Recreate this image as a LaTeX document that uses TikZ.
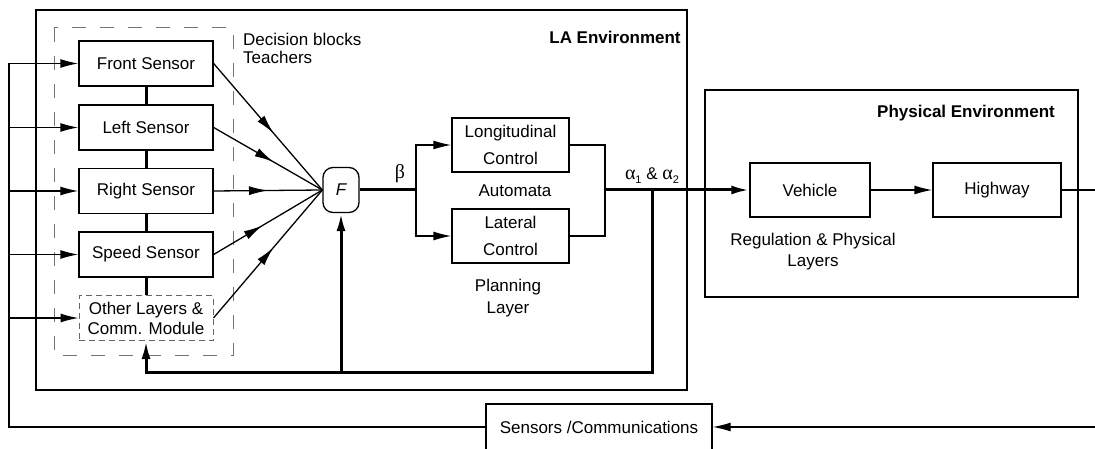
\documentclass[tikz,border=0pt]{standalone}
\usepackage{fontspec}
\setmainfont{Liberation Sans}
\newfontfamily\grk{Liberation Serif}
\usetikzlibrary{arrows.meta,decorations.markings,calc}
\begin{document}
\begin{tikzpicture}[x=1pt,y=-1pt,
  font=\fontsize{17}{20}\selectfont,
  thinln/.style={line width=1.3pt},
  thickln/.style={line width=3pt},
  tip/.style={-{Latex[length=18pt,width=9pt]}},
  blk/.style={draw,line width=1.3pt,inner sep=0pt,align=center},
  sensorbox/.style={blk,minimum width=134pt,minimum height=45pt},
  ctrlbox/.style={blk,minimum width=117pt,minimum height=54pt,font=\fontsize{17}{27}\selectfont},
  physbox/.style={blk,minimum width=122pt,minimum height=54pt},
  midarrow/.style={postaction={decorate},decoration={markings,
      mark=at position #1 with {\arrow{Latex[length=19pt,width=9pt]}}}},
  lbl/.style={inner sep=0pt,align=center},
  boldlbl/.style={inner sep=0pt,font=\fontsize{17}{20}\selectfont\bfseries},
  dashbox/.style={draw=black!55,line width=1pt,dash pattern=on 14pt off 14pt}
]
\useasboundingbox (0,0) rectangle (1095,449);

% containers
\node[blk,minimum width=651pt,minimum height=380pt] (la) at (361.5,200) {};
\node[blk,minimum width=373pt,minimum height=207pt] (phys) at (891.5,193.5) {};
\draw[dashbox] (54,28) rectangle (233,355);

% sensor blocks
\node[sensorbox] (front) at (146,63.5) {Front Sensor};
\node[sensorbox] (left) at (146,127.5) {Left Sensor};
\node[sensorbox] (right) at (146,191) {Right Sensor};
\node[sensorbox] (speed) at (146,254.5) {Speed Sensor};
\node[sensorbox,draw=black!60,line width=1pt,dash pattern=on 6pt off 4pt] (other) at (146,318)
  {Other Layers \&\\Comm. Module};

\node[blk,rounded corners=10pt,minimum width=36pt,minimum height=45pt] (F) at (341,190) {\itshape F};

\node[ctrlbox] (long) at (510.5,145) {Longitudinal\\Control};
\node[ctrlbox] (lat) at (510.5,236) {Lateral\\Control};

\node[physbox,minimum width=120pt] (veh) at (810,190) {Vehicle};
\node[physbox,minimum width=128pt] (hwy) at (997,190) {Highway};

\node[blk,minimum width=226pt,minimum height=46pt] (sens) at (599,427) {Sensors /Communications};

% labels
\node[lbl,anchor=west,font=\fontsize{17}{18}\selectfont,align=left] (dec) at (243,48) {Decision blocks\\Teachers};
\node[boldlbl] (lalbl) at (615,37) {LA Environment};
\node[boldlbl] (phlbl) at (966,113) {Physical Environment};
\node[lbl,font=\fontsize{20}{20}\selectfont\grk] (beta) at (400,174) {β};
\node[lbl] (alph) at (652,176) {{\fontsize{20}{20}\selectfont\grk α}\raisebox{-4pt}{\fontsize{11}{11}\selectfont 1} \& {\fontsize{20}{20}\selectfont\grk α}\raisebox{-4pt}{\fontsize{11}{11}\selectfont 2}};
\node[lbl] (auto) at (515,191) {Automata};
\node[lbl,font=\fontsize{17}{22}\selectfont] (plan) at (508,298) {Planning\\Layer};
\node[lbl,font=\fontsize{17}{21}\selectfont] (reg) at (813,252) {Regulation \& Physical\\Layers};

% thick chain between sensors
\draw[thickln] (front.south) -- (left.north);
\draw[thickln] (left.south) -- (right.north);
\draw[thickln] (right.south) -- (speed.north);
\draw[thickln] (speed.south) -- (other.north);

% sensor outputs to F
\draw[thinln,midarrow=0.55] (front.east) -- (F.west);
\draw[thinln,midarrow=0.55] (left.east) -- (F.west);
\draw[thinln,midarrow=0.5] (right.east) -- (F.west);
\draw[thinln,midarrow=0.45] (speed.east) -- (F.west);
\draw[thinln,midarrow=0.55] (other.east) -- (F.west);

% outer loop inputs
\coordinate (lc) at (9,427);
\draw[thinln,tip] (sens.west) -- (lc) |- (front.west);
\draw[thinln,tip] (lc |- left.west) -- (left.west);
\draw[thinln,tip] (lc |- right.west) -- (right.west);
\draw[thinln,tip] (lc |- speed.west) -- (speed.west);
\draw[thinln,tip] (lc |- other.west) -- (other.west);

% F to automata
\coordinate (bj) at (416,190);
\draw[thickln] (F.east) -- (bj);
\draw[thinln,tip] (bj) |- (long.west);
\draw[thinln,tip] (bj) |- (lat.west);
\coordinate (aj) at (605,190);
\draw[thinln] (long.east) -| (aj) |- (lat.east);
\draw[thickln,tip] (aj) -- (veh.west);

% feedback
\coordinate (fj) at (652,190);
\coordinate (fb) at (652,372);
\draw[thickln,tip] (fj) -- (fb) -- (other.south |- fb) -- (other.south);
\draw[thickln,tip] (F.south |- fb) -- (F.south);

% physical chain
\draw[thinln,tip] (veh.east) -- (hwy.west);
\coordinate (hr) at (1095,190);
\draw[thinln] (hwy.east) -- (hr);
\coordinate (sr) at (1095,427);
\draw[thinln,tip] (sr) -- (sens.east);
\end{tikzpicture}
\end{document}
